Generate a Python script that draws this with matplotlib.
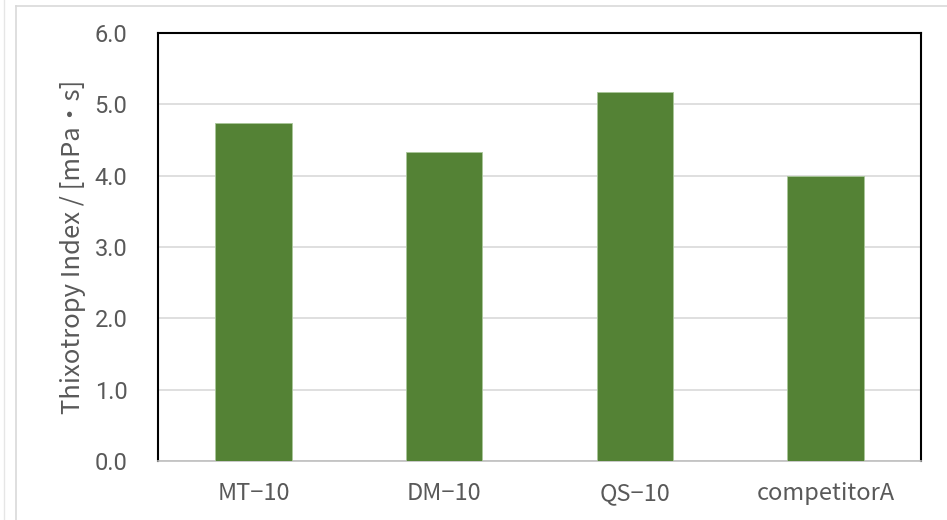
import matplotlib
matplotlib.use("Agg")
import matplotlib.pyplot as plt
from matplotlib.lines import Line2D

categories = ["MT−10", "DM−10", "QS−10", "competitorA"]
values = [4.74, 4.33, 5.17, 4.00]
yticks = [0.0, 1.0, 2.0, 3.0, 4.0, 5.0, 6.0]

W, H = 947, 520
fig = plt.figure(figsize=(W / 100, H / 100), dpi=100)
fig.patch.set_facecolor("white")

# outer chart frame lines
frame_col = "#D9D9D9"
fig.add_artist(Line2D([16 / W, 16 / W], [0, 1 - 6 / H], color=frame_col, lw=1.2, transform=fig.transFigure))
fig.add_artist(Line2D([16 / W, 1], [1 - 6 / H, 1 - 6 / H], color=frame_col, lw=1.2, transform=fig.transFigure))
fig.add_artist(Line2D([4 / W, 4 / W], [0, 1], color="#E6E6E6", lw=1.0, transform=fig.transFigure))

ax = fig.add_axes([158 / W, 1 - 461 / H, (921 - 158) / W, (461 - 33) / H])

x = range(len(categories))
ax.bar(x, values, width=0.4, color="#548235", edgecolor="#A9C79A", linewidth=0.6, zorder=3)

ax.set_xlim(-0.5, len(categories) - 0.5)
ax.set_ylim(0, 6)
ax.set_yticks(yticks)
ax.set_yticklabels([f"{v:.1f}" for v in yticks], fontfamily="Roboto", fontsize=17, color="#595959")
ax.set_xticks(list(x))
ax.set_xticklabels(categories, fontfamily=["Noto Sans CJK JP", "DejaVu Sans"], fontsize=17, color="#595959")
ax.tick_params(axis="y", length=0, pad=22)
ax.tick_params(axis="x", length=0, pad=15)

ax.yaxis.grid(True, color="#D9D9D9", lw=1.2, zorder=0)
ax.set_axisbelow(True)

for side in ("left", "top", "right"):
    ax.spines[side].set_color("black")
    ax.spines[side].set_linewidth(1.5)
ax.spines["bottom"].set_color("#BFBFBF")
ax.spines["bottom"].set_linewidth(1.2)

ax.set_ylabel("Thixotropy Index / [mPa・s]", fontfamily=["Noto Sans CJK JP", "DejaVu Sans"],
              fontsize=18.5, color="#595959", labelpad=6)

fig.savefig("out.png", dpi=100, facecolor="white")
